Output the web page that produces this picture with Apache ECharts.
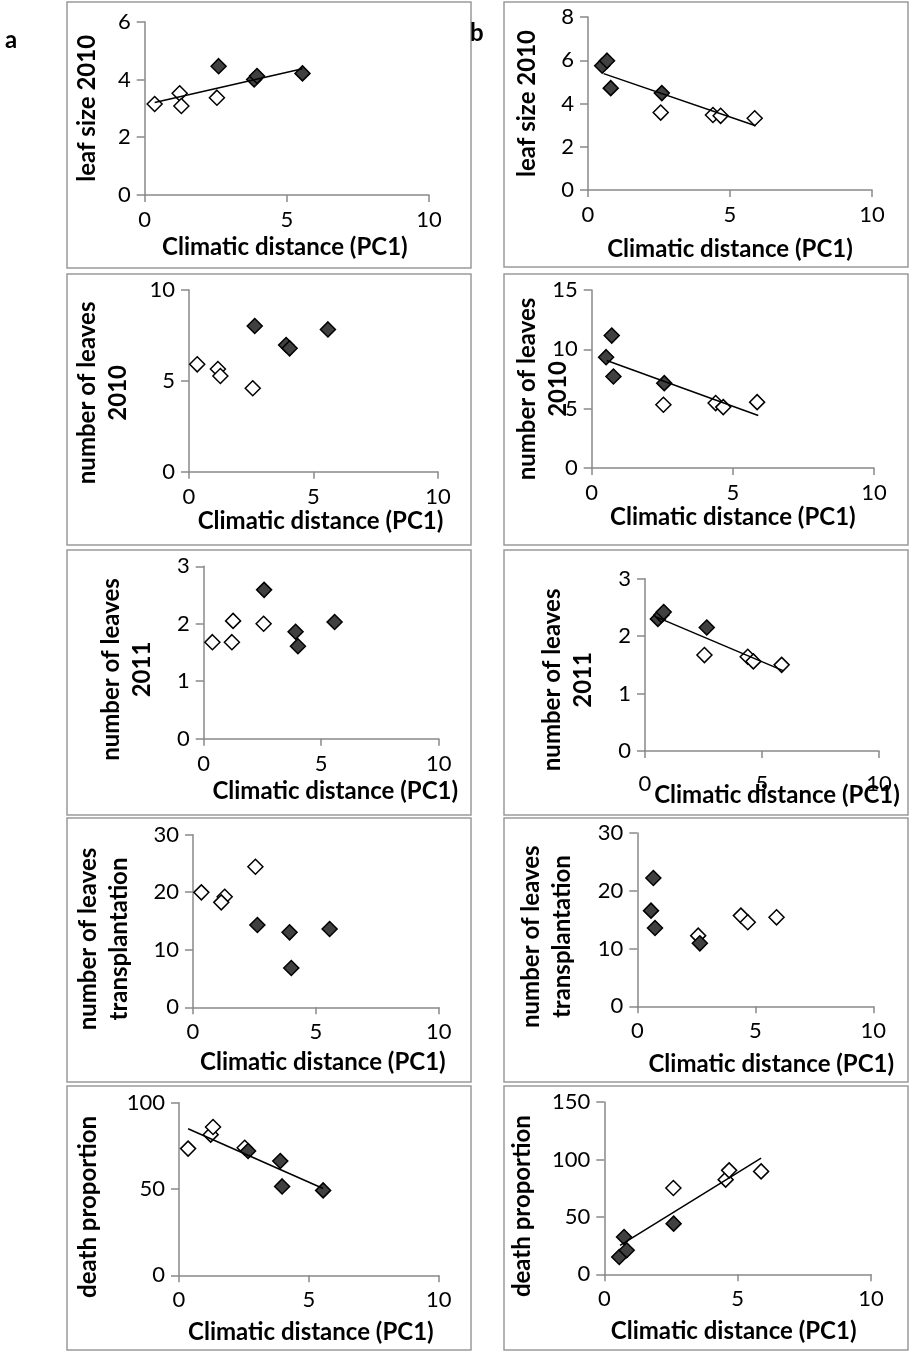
<!DOCTYPE html>
<html><head><meta charset="utf-8">
<script src="https://cdn.jsdelivr.net/npm/echarts@6/dist/echarts.min.js"></script>
<style>html,body{margin:0;padding:0;background:#fff}#c{width:911px;height:1352px}</style>
</head><body><div id="c"></div>
<script>
// ---------- DATA ----------
const xTitle = 'Climatic distance (PC1)';
const xMin = 0, xMax = 10, xStep = 5;

// column a
const a1Name = 'leaf size 2010';
const a1White = [[0.35,3.15],[1.23,3.52],[1.29,3.08],[2.54,3.37]];
const a1Dark  = [[2.6,4.46],[3.85,4.0],[3.95,4.12],[5.55,4.21]];
const a1Trend = [[0.35,3.2],[5.55,4.37]];

const a2Name = 'number of leaves\n2010';
const a2White = [[0.33,5.91],[1.16,5.65],[1.26,5.27],[2.56,4.59]];
const a2Dark  = [[2.64,8.02],[3.9,6.97],[4.04,6.79],[5.58,7.83]];

const a3Name = 'number of leaves\n2011';
const a3White = [[0.37,1.68],[1.25,2.05],[1.2,1.68],[2.55,2.0]];
const a3Dark  = [[2.57,2.59],[3.91,1.86],[4.01,1.61],[5.57,2.03]];

const a4Name = 'number of leaves\ntransplantation';
const a4White = [[0.34,19.98],[1.29,19.22],[1.15,18.24],[2.54,24.44]];
const a4Dark  = [[2.62,14.3],[3.93,13.03],[4.0,6.83],[5.56,13.6]];

const a5Name = 'death proportion';
const a5White = [[0.35,73.4],[1.22,81.5],[1.31,85.9],[2.53,73.9]];
const a5Dark  = [[2.66,72.0],[3.9,66.2],[3.97,51.5],[5.55,49.2]];
const a5Trend = [[0.35,84.9],[5.55,50.3]];

// column b
const b1Name = 'leaf size 2010';
const b1White = [[2.56,3.58],[4.4,3.47],[4.67,3.43],[5.87,3.32]];
const b1Dark  = [[0.5,5.75],[0.67,5.98],[0.8,4.71],[2.6,4.48]];
const b1Trend = [[0.55,5.38],[5.9,2.97]];

const b2Name = 'number of leaves\n2010';
const b2White = [[2.54,5.33],[4.39,5.47],[4.66,5.13],[5.86,5.55]];
const b2Dark  = [[0.71,11.16],[0.51,9.34],[0.77,7.71],[2.57,7.15]];
const b2Trend = [[0.53,9.06],[5.9,4.43]];

const b3Name = 'number of leaves\n2011';
const b3White = [[2.54,1.67],[4.39,1.64],[4.63,1.56],[5.84,1.5]];
const b3Dark  = [[0.55,2.3],[0.7,2.37],[0.8,2.42],[2.64,2.15]];
const b3Trend = [[0.5,2.33],[5.9,1.4]];

const b4Name = 'number of leaves\ntransplantation';
const b4White = [[2.58,12.23],[4.39,15.7],[4.68,14.54],[5.9,15.4]];
const b4Dark  = [[0.68,22.2],[0.58,16.56],[0.75,13.56],[2.65,10.9]];

const b5Name = 'death proportion';
const b5White = [[2.59,75.1],[4.55,82.4],[4.68,90.5],[5.88,89.6]];
const b5Dark  = [[0.56,15.1],[0.74,32.5],[0.84,20.9],[2.6,44.1]];
const b5Trend = [[0.59,25.2],[5.88,101.2]];

const yMaxes     = [6, 8, 10, 15, 3, 3, 30, 30, 100, 150];
const yIntervals = [2, 2, 5, 5, 1, 1, 10, 10, 50, 50];
const panelLetters = ['a', 'b'];

// ---------- LAYOUT ----------
const panels = [
  {name:a1Name, white:a1White, dark:a1Dark, trend:a1Trend, g:[144.7,21.7,284.3,173.3], xg:40, yg:42, ys:0,  xs:-2},
  {name:b1Name, white:b1White, dark:b1Dark, trend:b1Trend, g:[588,17,284,173],          xg:47, yg:45, ys:0,  xs:0},
  {name:a2Name, white:a2White, dark:a2Dark, trend:null,    g:[189,290,249,181.7],       xg:38, yg:55, ys:12, xs:7},
  {name:b2Name, white:b2White, dark:b2Dark, trend:b2Trend, g:[591.7,290,282.3,178],     xg:37, yg:18, ys:10, xs:0},
  {name:a3Name, white:a3White, dark:a3Dark, trend:null,    g:[203.7,566.3,235,172.4],   xg:41, yg:46, ys:17, xs:14},
  {name:b3Name, white:b3White, dark:b3Dark, trend:b3Trend, g:[645,578.7,234,172.3],     xg:32, yg:46, ys:15, xs:15, lm:22},
  {name:a4Name, white:a4White, dark:a4Dark, trend:null,    g:[193,834.7,245.7,172.6],   xg:43, yg:58, ys:18, xs:7},
  {name:b4Name, white:b4White, dark:b4Dark, trend:null,    g:[637.3,833,236,173.3],     xg:46, yg:60, ys:17, xs:16},
  {name:a5Name, white:a5White, dark:a5Dark, trend:a5Trend, g:[179,1102.7,259.7,172.6],  xg:45, yg:75, ys:18, xs:2},
  {name:b5Name, white:b5White, dark:b5Dark, trend:b5Trend, g:[604.3,1102,266.7,172.3],  xg:45, yg:67, ys:18, xs:-4}
];
const boxes = [
  [67,2,404,266],[504,2,404,265],
  [67,274,404,271],[504,274,404,271],
  [67,550,404,265],[504,550,404,265],
  [67,818,404,264],[504,818,404,264],
  [67,1086,404,264],[504,1086,404,264]
];

const FONT = 'Lato, "Open Sans", sans-serif';
const axisGray = '#898989';
const grids = [], xAxes = [], yAxes = [], series = [];

panels.forEach((p, i) => {
  grids.push({left:p.g[0], top:p.g[1], width:p.g[2], height:p.g[3], containLabel:false});
  xAxes.push({
    type:'value', gridIndex:i, min:xMin, max:xMax, interval:xStep,
    name:xTitle, nameLocation:'middle', nameGap:p.xg, nameMoveOverlap:false,
    nameTextStyle:{fontFamily:FONT, fontWeight:'bold', fontSize:24, color:'#000',
      padding: p.xs >= 0 ? [0,0,0,2*p.xs] : [0,-2*p.xs,0,0]},
    axisLine:{show:true, onZero:false, lineStyle:{color:axisGray, width:1.5}},
    axisTick:{show:true, inside:false, length:7, lineStyle:{color:axisGray, width:1.5}},
    axisLabel:{fontFamily:FONT, fontSize:22, color:'#000', margin:p.lm || 14},
    splitLine:{show:false}
  });
  const shift = p.ys;
  yAxes.push({
    type:'value', gridIndex:i, min:0, max:yMaxes[i], interval:yIntervals[i],
    name:p.name, nameLocation:'middle', nameGap:p.yg, nameMoveOverlap:false,
    nameTextStyle:{fontFamily:FONT, fontWeight:'bold', fontSize:24, color:'#000',
      lineHeight:31, align:'center', padding:[0,2*shift,0,0]},
    axisLine:{show:true, lineStyle:{color:axisGray, width:1.5}},
    axisTick:{show:true, inside:false, length:8, lineStyle:{color:axisGray, width:1.5}},
    axisLabel:{fontFamily:FONT, fontSize:22, color:'#000', margin:14},
    splitLine:{show:false}
  });
  if (p.trend) {
    series.push({type:'line', xAxisIndex:i, yAxisIndex:i, data:p.trend, symbol:'none',
      lineStyle:{color:'#000', width:1.5}, z:3, silent:true});
  }
  series.push({type:'scatter', xAxisIndex:i, yAxisIndex:i, data:p.white, symbol:'diamond', symbolSize:15,
    itemStyle:{color:'#fff', borderColor:'#000', borderWidth:1.5, opacity:1}, z:2});
  series.push({type:'scatter', xAxisIndex:i, yAxisIndex:i, data:p.dark, symbol:'diamond', symbolSize:15,
    itemStyle:{color:'#404040', borderColor:'#000', borderWidth:1.5, opacity:1}, z:2});
});

const graphics = boxes.map(b => ({type:'rect', shape:{x:b[0], y:b[1], width:b[2], height:b[3]},
  style:{fill:'none', stroke:'#9a9a9a', lineWidth:1.5}, z:-1, silent:true}));
graphics.push({type:'text', left:5, top:28, style:{text:panelLetters[0], font:'bold 24px ' + FONT, fill:'#000'}});
graphics.push({type:'text', left:470, top:21, style:{text:panelLetters[1], font:'bold 24px ' + FONT, fill:'#000'}});

const chart = echarts.init(document.getElementById('c'), null, {renderer:'canvas'});
chart.setOption({
  animation:false,
  backgroundColor:'#fff',
  grid:grids, xAxis:xAxes, yAxis:yAxes, series:series, graphic:graphics
});
</script></body></html>
